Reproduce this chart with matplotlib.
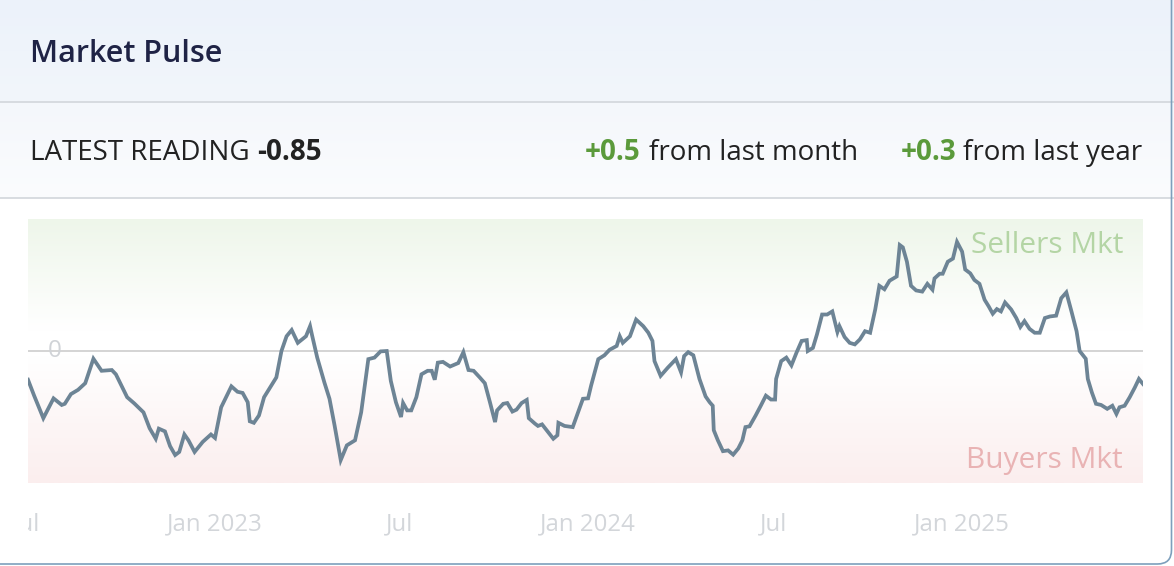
import numpy as np
import pandas as pd
import matplotlib
matplotlib.use('Agg')
import matplotlib.pyplot as plt
import matplotlib.dates as mdates
from matplotlib import transforms
from matplotlib.patches import FancyBboxPatch

W, H = 1174, 566

# weekly-ish index readings, days counted from the first reading
start = pd.Timestamp('2022-07-02')
days = [0, 6, 15, 25, 33, 36, 42, 49, 56, 64,
        72, 82, 86, 97, 104, 113, 119, 125, 128, 134,
        139, 144, 148, 153, 157, 163, 171, 179, 183, 189,
        199, 205, 210, 215, 217, 221, 226, 231, 243, 248,
        253, 258, 264, 272, 276, 278, 283, 290, 295, 300,
        306, 312, 320, 326, 333, 339, 345, 351, 355, 360,
        365, 367, 371, 375, 380, 385, 391, 395, 398, 401,
        406, 413, 421, 426, 431, 436, 442, 447, 452, 457,
        459, 465, 469, 474, 478, 483, 488, 490, 496, 499,
        503, 509, 514, 518, 519, 525, 533, 543, 548, 551,
        558, 564, 569, 576, 579, 582, 589, 595, 602, 607,
        611, 613, 619, 626, 634, 639, 642, 646, 651, 657,
        663, 667, 670, 671, 675, 680, 685, 690, 695, 699,
        702, 706, 712, 717, 722, 727, 731, 732, 737, 742,
        747, 752, 757, 762, 763, 768, 772, 777, 782, 787,
        792, 794, 799, 804, 809, 814, 819, 824, 829, 833,
        838, 843, 850, 853, 856, 860, 864, 869, 875, 880,
        885, 887, 892, 895, 900, 905, 909, 914, 917, 922,
        926, 931, 936, 940, 944, 948, 952, 956, 962, 967,
        971, 975, 980, 985, 990, 995, 1000, 1006, 1011, 1016,
        1021, 1026, 1029, 1035, 1037, 1041, 1045, 1050, 1056, 1061,
        1065, 1068, 1073, 1078, 1083, 1087, 1091]
values = [-0.74, -1.15, -1.73, -1.22, -1.39, -1.36, -1.11, -1.00, -0.83, -0.20,
          -0.51, -0.49, -0.60, -1.19, -1.35, -1.58, -1.99, -2.26, -2.00, -2.07,
          -2.45, -2.68, -2.60, -2.15, -2.30, -2.60, -2.34, -2.15, -2.24, -1.45,
          -0.91, -1.05, -1.08, -1.32, -1.81, -1.85, -1.66, -1.19, -0.68, 0.00,
          0.38, 0.54, 0.21, 0.38, 0.64, 0.40, -0.17, -0.81, -1.23, -1.92,
          -2.81, -2.43, -2.30, -1.58, -0.21, -0.17, -0.01, 0.00, -0.77, -1.32,
          -1.70, -1.34, -1.53, -1.53, -1.19, -0.60, -0.51, -0.51, -0.74, -0.30,
          -0.28, -0.40, -0.31, -0.03, -0.49, -0.51, -0.68, -0.83, -1.32, -1.83,
          -1.53, -1.36, -1.34, -1.56, -1.51, -1.34, -1.26, -1.73, -1.87, -1.93,
          -1.89, -2.09, -2.26, -2.17, -1.85, -1.93, -1.96, -1.23, -1.22, -0.89,
          -0.21, -0.11, 0.03, 0.13, 0.38, 0.21, 0.38, 0.81, 0.64, 0.47,
          0.26, -0.26, -0.64, -0.43, -0.21, -0.55, -0.13, -0.03, -0.11, -0.72,
          -1.17, -1.32, -1.41, -2.04, -2.30, -2.58, -2.56, -2.67, -2.51, -2.30,
          -1.96, -1.94, -1.66, -1.41, -1.15, -1.25, -1.25, -0.72, -0.26, -0.17,
          -0.37, -0.04, 0.26, 0.28, 0.00, 0.08, 0.43, 0.94, 0.94, 1.02,
          0.49, 0.64, 0.36, 0.21, 0.17, 0.30, 0.51, 0.47, 1.07, 1.68,
          1.59, 1.81, 1.92, 2.73, 2.67, 2.30, 1.68, 1.56, 1.53, 1.73,
          1.58, 1.87, 1.99, 1.99, 2.30, 2.38, 2.81, 2.56, 2.10, 2.00,
          1.83, 1.73, 1.32, 1.15, 0.96, 1.08, 1.02, 1.25, 1.07, 0.85,
          0.62, 0.77, 0.57, 0.47, 0.47, 0.85, 0.89, 0.91, 1.36, 1.51,
          1.02, 0.51, 0.00, -0.20, -0.72, -1.07, -1.36, -1.39, -1.49, -1.41,
          -1.62, -1.45, -1.41, -1.19, -0.94, -0.72, -0.85]

tick_dates = ['2022-07-01', '2023-01-01', '2023-07-01', '2024-01-01', '2024-07-01', '2025-01-01']
tick_labels = ['Jul', 'Jan 2023', 'Jul', 'Jan 2024', 'Jul', 'Jan 2025']

latest = '-0.85'
month_change = '+0.5'
year_change = '+0.3'

dates = start + pd.to_timedelta(days, unit='D')

plt.rcParams['font.family'] = ['Open Sans', 'DejaVu Sans']

fig = plt.figure(figsize=(W / 100, H / 100), dpi=100)
fig.patch.set_facecolor('white')

# background layer in pixel units
bg = fig.add_axes([0, 0, 1, 1])
bg.set_xlim(0, W)
bg.set_ylim(H, 0)
bg.axis('off')


def vgrad(c_top, c_bot, n=64):
    t = np.linspace(0, 1, n)[:, None]
    a = np.array(c_top)[None, :]
    b = np.array(c_bot)[None, :]
    return (a * (1 - t) + b * t)[:, None, :]


hx = lambda h: [int(h[i:i + 2], 16) / 255 for i in (1, 3, 5)]

bg.imshow(vgrad(hx('#ecf2fa'), hx('#f2f6fb')), extent=[0, W, 102, 0], aspect='auto', zorder=0)
bg.imshow(vgrad(hx('#f4f7fb'), hx('#fbfcfe')), extent=[0, W, 198, 102], aspect='auto', zorder=0)

# plot area gradient: green on top, white around zero, pink at bottom
top, mid, bot = hx('#eef6ea'), hx('#ffffff'), hx('#fbeeee')
t = np.linspace(0, 1, 200)
cols = []
for v in t:
    if v < 0.42:
        k = v / 0.42
        cols.append([top[i] * (1 - k) + mid[i] * k for i in range(3)])
    elif v < 0.52:
        cols.append(mid)
    else:
        k = (v - 0.52) / 0.48
        cols.append([mid[i] * (1 - k) + bot[i] * k for i in range(3)])
bg.imshow(np.array(cols)[:, None, :], extent=[28, 1143, 483, 219], aspect='auto', zorder=0)

for yy in (102, 198):
    bg.plot([0, W], [yy, yy], color='#d2d6db', lw=1.2, zorder=1)

card = FancyBboxPatch((-20, -20), W + 20 - 2.5, H + 20 - 2.0,
                      boxstyle='round,pad=0,rounding_size=14',
                      fc='none', ec='#7d9fbc', lw=1.2, zorder=3)
bg.add_patch(card)

bg.text(30, 61.5, 'Market Pulse', fontsize=22, weight='semibold', color='#1f2345', va='baseline')
bg.text(30, 160, 'LATEST READING', fontsize=20, color='#222222', va='baseline')
bg.text(257, 160, latest, fontsize=20, weight='bold', color='#222222', va='baseline')
green = '#5b9a3b'
bg.text(585, 160, month_change, fontsize=20, weight='bold', color=green, va='baseline')
bg.text(649, 160, 'from last month', fontsize=20, color='#222222', va='baseline')
bg.text(900.5, 160, year_change, fontsize=20, weight='bold', color=green, va='baseline')
bg.text(963, 160, 'from last year', fontsize=20, color='#222222', va='baseline')

# chart
ax = fig.add_axes([28 / W, 1 - 483 / H, 1115 / W, 264 / H])
ax.set_facecolor('none')
ax.axhline(0, color='#cdcdcd', lw=1.2, zorder=1)
ax.plot(dates, values, color='#6d8495', lw=2.7, solid_joinstyle='miter', zorder=3)
ax.set_xlim(dates[0], dates[-1])
ax.set_ylim(-3.4, 3.4)
ax.axis('off')

ax.text(0.0242, 0, '0', transform=transforms.blended_transform_factory(ax.transAxes, ax.transData),
        ha='center', va='center', fontsize=17.5, color='#d0d3d7', zorder=2)
ax.text(0.982, 0.871, 'Sellers Mkt', transform=ax.transAxes, ha='right', va='baseline',
        fontsize=21.5, color='#b4d5a5', zorder=2)
ax.text(0.982, 0.058, 'Buyers Mkt', transform=ax.transAxes, ha='right', va='baseline',
        fontsize=21.5, color='#e9b3b4', zorder=2)

xtr = transforms.blended_transform_factory(ax.transData, fig.transFigure)
clip = transforms.TransformedBbox(matplotlib.transforms.Bbox([[0, -1], [1, 2]]), ax.transAxes)
for d, lab in zip(tick_dates, tick_labels):
    tx = fig.text(mdates.date2num(pd.Timestamp(d)), 1 - 530 / H, lab, transform=xtr,
                  ha='center', va='baseline', fontsize=17.3, color='#d3d6da', clip_on=True)
    tx.set_clip_box(clip)

fig.savefig('out.png', dpi=100)
